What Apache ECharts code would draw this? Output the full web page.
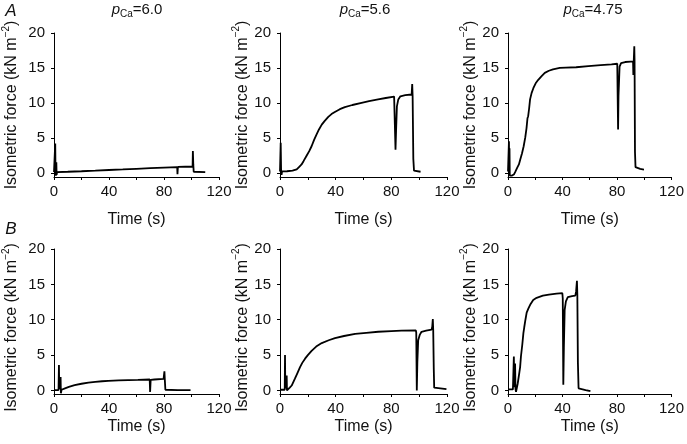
<!DOCTYPE html>
<html>
<head>
<meta charset="utf-8">
<script src="https://cdn.jsdelivr.net/npm/echarts@6/dist/echarts.min.js"></script>
<style>
  html, body { margin: 0; padding: 0; background: #fff; }
  #chart { width: 687px; height: 444px; }
</style>
</head>
<body>
<div id="chart"></div>
<script>
// Isometric force traces, [time (s), force (kN m^-2)]
// row A
var traceA1 = [[0,0.1],[0.8,0.1],[0.9,4.2],[1.1,0.2],[1.4,-0.4],[1.7,1.5],[1.9,-0.3],[2.2,0.1],[10,0.15],[20,0.22],[30,0.3],[40,0.4],[50,0.48],[60,0.57],[70,0.66],[80,0.75],[89.6,0.82],[89.8,-0.2],[90.1,0.84],[100.8,0.9],[101,3.1],[101.3,1.2],[101.6,0.15],[110,0.1]];
var traceA2 = [[0,0.2],[0.3,0.2],[0.5,4.3],[0.8,0.3],[1.1,-0.3],[1.5,0.2],[5,0.22],[9,0.3],[12,0.5],[14,0.9],[15.5,1.2],[17,1.7],[19,2.4],[21,3.1],[22.7,3.8],[24.5,4.7],[26.3,5.5],[28,6.2],[30,6.9],[32,7.4],[34.7,8.0],[37,8.4],[39.4,8.7],[43,9.1],[46.6,9.4],[52,9.7],[58.6,10.0],[64,10.25],[70.5,10.5],[76,10.7],[82,10.9],[82.6,10.8],[83,3.3],[83.4,6],[84,9.5],[85,10.5],[86.5,10.95],[90,11.1],[94.6,11.2],[95,12.7],[95.3,11],[95.8,2],[96.3,0.3],[97,0.15],[101,0.15]];
var traceA3 = [[0,0.2],[0.5,0.2],[0.7,4.5],[0.9,0.5],[1.1,3.5],[1.3,-0.4],[3,-0.4],[4.5,-0.2],[5.5,0.2],[6.7,0.7],[8,1.2],[9,1.9],[10.3,2.8],[11.5,3.8],[12.7,5.1],[13.6,6.4],[14.3,7.8],[14.8,8.1],[15.5,9.2],[16.2,10.5],[17.3,11.4],[18.6,12.1],[20.3,12.8],[22.2,13.3],[24.5,13.8],[27,14.3],[30,14.6],[33,14.8],[38,15.0],[42.5,15.05],[50,15.1],[59,15.25],[68,15.4],[76,15.5],[80.2,15.6],[80.5,15.4],[80.8,6.2],[81.1,11],[81.9,15.2],[83,15.7],[86,15.85],[90,15.9],[91.8,15.9],[92,14],[92.3,16],[92.7,18.1],[92.9,16],[93.2,3],[93.6,0.8],[95,0.7],[97,0.55],[99.8,0.45]];
// row B
var traceB1 = [[0,0.05],[3.3,0.05],[3.6,3.6],[3.8,0.2],[4.5,0.1],[4.8,1.9],[5,-0.4],[5.5,0.1],[6,0.15],[8,0.3],[10.8,0.5],[15,0.75],[20,0.95],[25,1.1],[30,1.2],[35,1.3],[39.5,1.35],[47,1.42],[54,1.47],[61,1.5],[69.6,1.55],[69.9,-0.2],[70.3,1.5],[73,1.55],[79.7,1.65],[80.3,2.7],[80.6,1.5],[81,0.1],[90,0.05],[99.3,0.05]];
var traceB2 = [[0,0.1],[3.4,0.1],[3.6,5.0],[3.8,0.3],[4.6,0.2],[4.8,2.1],[5,0],[6,0.25],[7,0.4],[8.4,0.7],[10.8,1.7],[12.6,2.5],[14.4,3.3],[16,3.9],[18,4.5],[20,5.0],[22.7,5.6],[26,6.2],[30,6.7],[35,7.1],[39.5,7.4],[46,7.7],[54,8.0],[62,8.15],[70.6,8.3],[80,8.4],[87.3,8.45],[97.6,8.5],[97.9,8.2],[98.3,0],[98.7,4],[99.3,7.1],[100.5,7.9],[101.7,8.3],[105,8.45],[108.9,8.6],[109.4,9],[109.8,10.1],[110.1,8.5],[110.5,3],[110.8,0.4],[111.5,0.2],[119.6,0.2]];
var traceB3 = [[0,0.15],[3.6,0.15],[4.1,0.3],[4.3,4.8],[4.6,0.8],[5,0.5],[5.2,3.8],[5.5,0.2],[5.9,-0.2],[6.5,0],[7.1,0.95],[8.3,2.5],[8.9,3.3],[9.5,4.8],[10.5,6.5],[11.3,8.1],[11.9,8.9],[12.8,10],[13.7,11.0],[15,11.6],[16.5,12.2],[18.5,12.8],[21,13.1],[25.6,13.4],[30,13.55],[35.6,13.7],[39.9,13.75],[40.2,13],[40.6,0.8],[41,6],[41.6,11.4],[42.5,12.6],[43.9,13.2],[47,13.35],[49.4,13.4],[50,14],[50.6,15.5],[50.9,13.5],[51.3,4],[51.8,0.3],[53,0.15],[57,0.05],[60.5,-0.1]];

var traces = [traceA1, traceA2, traceA3, traceB1, traceB2, traceB3];
var pCaValues = ['6.0', '5.6', '4.75'];
var panelLetters = ['A', 'B'];
var xLabelTicks = [0, 40, 80, 120];
var yTicks = [0, 5, 10, 15, 20];

var FONT = '"Liberation Sans", Arial, Helvetica, sans-serif';

// layout of the 2x3 panels (pixels)
var colLefts = [52, 280, 508];
var rowTops = [33, 249];
var gridWidth = 167;
var rowHeights = [144, 145];
var rowYMin = [-0.6, -0.5];
var yNameGaps = [34, 26, 25];
var xNameGaps = [35, 25];
// bottom row's y titles sit a little lower in the original
var yNamePadding = [[0, 0, 0, 0], [0, 12, 0, 0]];

var grids = [], xAxes = [], yAxes = [], series = [];

for (var r = 0; r < 2; r++) {
  for (var c = 0; c < 3; c++) {
    var i = r * 3 + c;
    grids.push({
      left: colLefts[c], top: rowTops[r],
      width: gridWidth, height: rowHeights[r],
      containLabel: false
    });

    xAxes.push({
      gridIndex: i,
      type: 'value',
      min: 0, max: 120, interval: 20,
      axisLine: { onZero: false, lineStyle: { color: '#000', width: 1 } },
      axisTick: { length: 3, lineStyle: { color: '#000' } },
      axisLabel: {
        margin: 7, fontSize: 15, color: '#111', fontFamily: FONT,
        formatter: function (v) { return xLabelTicks.indexOf(v) >= 0 ? String(v) : ''; }
      },
      splitLine: { show: false },
      name: 'Time (s)',
      nameLocation: 'middle',
      nameGap: xNameGaps[r],
      nameTextStyle: { fontSize: 16, color: '#111', fontFamily: FONT }
    });

    yAxes.push({
      gridIndex: i,
      type: 'value',
      min: rowYMin[r], max: 20,
      axisLine: { show: true, lineStyle: { color: '#000', width: 1 } },
      axisTick: { show: true, length: 3, customValues: yTicks, lineStyle: { color: '#000' } },
      axisLabel: {
        customValues: yTicks,
        margin: 9, fontSize: 15, color: '#111', fontFamily: FONT
      },
      splitLine: { show: false },
      name: '{n|Isometric force (kN m}{s|\u22122}{n|)}',
      nameLocation: 'middle',
      nameGap: yNameGaps[c],
      nameTextStyle: {
        padding: yNamePadding[r],
        rich: {
          n: { fontSize: 16, color: '#111', fontFamily: FONT, lineHeight: 19, verticalAlign: 'bottom' },
          s: { fontSize: 10, color: '#111', fontFamily: FONT, lineHeight: 19, verticalAlign: 'top' }
        }
      }
    });

    series.push({
      type: 'line',
      xAxisIndex: i, yAxisIndex: i,
      data: traces[i],
      showSymbol: false,
      symbol: 'none',
      lineStyle: { color: '#000', width: 1.8 },
      silent: true
    });
  }
}

// panel titles (pCa) and row letters
var graphics = [];
for (var c = 0; c < 3; c++) {
  graphics.push({
    type: 'text',
    x: colLefts[c] + gridWidth / 2 + 1.5,
    y: 10,
    style: {
      text: '{p|p}{s|Ca}{n|=' + pCaValues[c] + '}',
      align: 'center',
      verticalAlign: 'middle',
      rich: {
        p: { fontSize: 15, fontStyle: 'italic', fill: '#111', fontFamily: FONT, lineHeight: 18, verticalAlign: 'middle' },
        s: { fontSize: 10, fill: '#111', fontFamily: FONT, lineHeight: 18, verticalAlign: 'bottom' },
        n: { fontSize: 15, fill: '#111', fontFamily: FONT, lineHeight: 18, verticalAlign: 'middle' }
      }
    }
  });
}
var letterY = [11, 229];
for (var r = 0; r < 2; r++) {
  graphics.push({
    type: 'text',
    x: 11, y: letterY[r],
    style: {
      text: panelLetters[r],
      align: 'center', verticalAlign: 'middle',
      fontSize: 17, fontStyle: 'italic', fill: '#111', fontFamily: FONT
    }
  });
}

var myChart = echarts.init(document.getElementById('chart'), null, { renderer: 'canvas' });
myChart.setOption({
  animation: false,
  backgroundColor: '#fff',
  grid: grids,
  xAxis: xAxes,
  yAxis: yAxes,
  series: series,
  graphic: graphics
});
</script>
</body>
</html>
